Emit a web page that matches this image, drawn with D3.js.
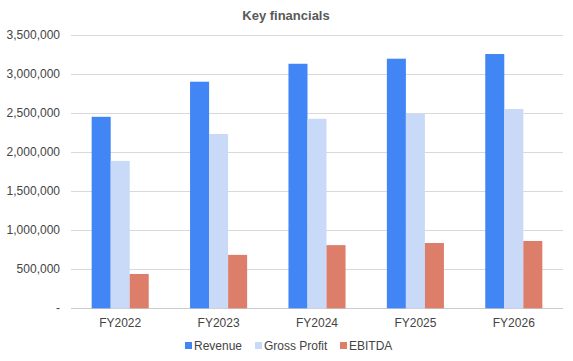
<!DOCTYPE html>
<html lang="en">
  <head>
    <meta charset="utf-8" />
    <title>Key financials</title>
    <script src="https://cdn.jsdelivr.net/npm/d3@7"></script>
    <style>
      body { margin: 0; background: #fff; }
      svg text { font-family: "Liberation Sans", Arial, sans-serif; }
    </style>
  </head>
  <body>
    <script>
      var w = 573;
      var h = 361;

      // values
      var years = ["FY2022", "FY2023", "FY2024", "FY2025", "FY2026"];
      var seriesNames = ["Revenue", "Gross Profit", "EBITDA"];
      var revenue = [2455000, 2905000, 3135000, 3200000, 3260000];
      var grossProfit = [1890000, 2235000, 2430000, 2495000, 2555000];
      var ebitda = [440000, 685000, 810000, 837000, 863000];
      var yTicks = [0, 500000, 1000000, 1500000, 2000000, 2500000, 3000000, 3500000];
      var colors = ["#4285f4", "#c9daf8", "#dd7e6b"];

      var series = [revenue, grossProfit, ebitda];

      var plotLeft = 71, plotRight = 563, plotTop = 35.3, plotBottom = 308.3;

      var x0 = d3.scaleBand()
        .domain(years)
        .range([plotLeft, plotRight])
        .paddingInner(0.42)
        .paddingOuter(0.21);

      var x1 = d3.scaleBand()
        .domain(d3.range(seriesNames.length))
        .range([0, x0.bandwidth()]);

      var y = d3.scaleLinear()
        .domain([0, 3500000])
        .range([plotBottom, plotTop]);

      var svg = d3.select("body").append("svg")
        .attr("width", w)
        .attr("height", h);

      svg.append("text")
        .attr("x", 286)
        .attr("y", 20)
        .attr("text-anchor", "middle")
        .attr("font-size", 13)
        .attr("font-weight", "bold")
        .attr("fill", "#595959")
        .text("Key financials");

      // gridlines
      svg.append("g")
        .selectAll("line")
        .data(yTicks)
        .enter()
        .append("line")
        .attr("x1", plotLeft)
        .attr("x2", plotRight)
        .attr("y1", function (d) { return Math.round(y(d)) + 0.5; })
        .attr("y2", function (d) { return Math.round(y(d)) + 0.5; })
        .attr("stroke", function (d) { return d === 0 ? "#cccccc" : "#d9d9d9"; })
        .attr("stroke-width", 1);

      // y labels
      svg.append("g")
        .selectAll("text")
        .data(yTicks)
        .enter()
        .append("text")
        .attr("x", 60)
        .attr("y", function (d) { return y(d) + 4; })
        .attr("text-anchor", "end")
        .attr("font-size", 12)
        .attr("fill", "#444")
        .text(function (d) { return d === 0 ? "-" : d3.format(",")(d); });

      // bars
      var groups = svg.append("g")
        .selectAll("g")
        .data(years)
        .enter()
        .append("g")
        .attr("transform", function (d) { return "translate(" + x0(d) + ",0)"; });

      groups.selectAll("rect")
        .data(function (d, i) {
          return series.map(function (s, k) { return { k: k, v: s[i] }; });
        })
        .enter()
        .append("rect")
        .attr("x", function (d) { return x1(d.k); })
        .attr("width", x1.bandwidth())
        .attr("y", function (d) { return y(d.v); })
        .attr("height", function (d) { return plotBottom - y(d.v); })
        .attr("fill", function (d) { return colors[d.k]; });

      // x labels
      svg.append("g")
        .selectAll("text")
        .data(years)
        .enter()
        .append("text")
        .attr("x", function (d) { return x0(d) + x0.bandwidth() / 2; })
        .attr("y", 327)
        .attr("text-anchor", "middle")
        .attr("font-size", 12)
        .attr("fill", "#444")
        .text(function (d) { return d; });

      // legend
      var legendX = [185, 255, 340];
      var legend = svg.append("g")
        .selectAll("g")
        .data(seriesNames)
        .enter()
        .append("g")
        .attr("transform", function (d, i) { return "translate(" + legendX[i] + ",342)"; });

      legend.append("rect")
        .attr("width", 7)
        .attr("height", 7)
        .attr("fill", function (d, i) { return colors[i]; });

      legend.append("text")
        .attr("x", 9)
        .attr("y", 7.5)
        .attr("font-size", 12)
        .attr("fill", "#444")
        .text(function (d) { return d; });
    </script>
  </body>
</html>
